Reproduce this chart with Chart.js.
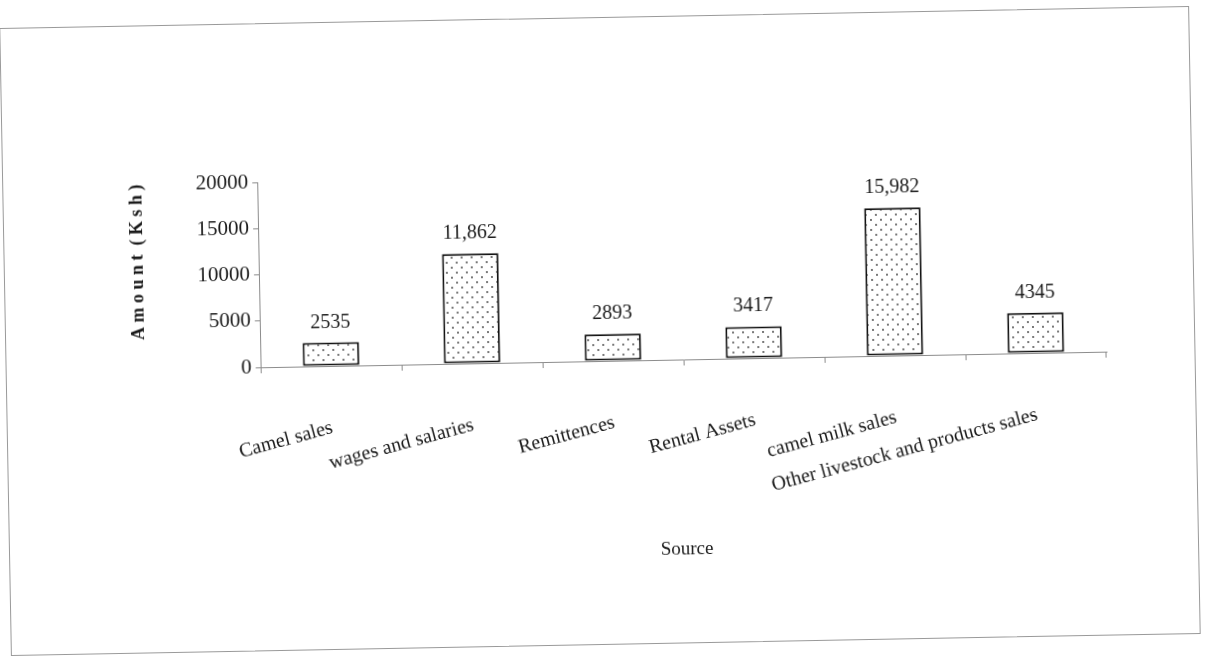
<!DOCTYPE html>
<html>
<head>
<meta charset="utf-8">
<title>Income sources</title>
<script src="https://cdn.jsdelivr.net/npm/chart.js@4.4.1/dist/chart.umd.min.js"></script>
<style>
  html, body { margin: 0; padding: 0; background: #fff; overflow: hidden; }
  #frame {
    position: absolute; left: 5px; top: 17px;
    width: 1190px; height: 628px;
    box-sizing: border-box;
    border: 1px solid #9a9a9a;
    transform: rotate(-1.06deg);
  }
  #wrap { position: absolute; left: 0; top: 0; width: 1188px; height: 626px; }
</style>
</head>
<body>
<div id="frame">
  <div id="wrap"><canvas id="incomeChart"></canvas></div>
</div>
<script>
const sources = ['Camel sales', 'wages and salaries', 'Remittences', 'Rental Assets', 'camel milk sales', 'Other livestock and products sales'];
const amounts = [2535, 11862, 2893, 3417, 15982, 4345];
const amountLabels = ['2535', '11,862', '2893', '3417', '15,982', '4345'];
const yTicks = [0, 5000, 10000, 15000, 20000];

const SERIF = "'Liberation Serif', 'Times New Roman', serif";
const INK = '#1a1a1a';
const AXIS = '#8c8c8c';

// dotted fill for the bars
function dotPattern() {
  const tile = document.createElement('canvas');
  tile.width = 10;
  tile.height = 10;
  const t = tile.getContext('2d');
  t.fillStyle = '#ffffff';
  t.fillRect(0, 0, 10, 10);
  t.fillStyle = '#3a3a3a';
  [[2, 2], [7, 7]].forEach(([x, y]) => {
    t.beginPath();
    t.arc(x, y, 0.9, 0, Math.PI * 2);
    t.fill();
  });
  return t.createPattern(tile, 'repeat');
}

// value text above each bar
const valueLabels = {
  id: 'valueLabels',
  afterDatasetsDraw(chart) {
    const ctx = chart.ctx;
    const meta = chart.getDatasetMeta(0);
    ctx.save();
    ctx.font = '20px ' + SERIF;
    ctx.fillStyle = INK;
    ctx.textAlign = 'center';
    ctx.textBaseline = 'alphabetic';
    meta.data.forEach((bar, i) => {
      ctx.fillText(amountLabels[i], bar.x, bar.y - 15);
    });
    ctx.restore();
  }
};

const ctx = document.getElementById('incomeChart').getContext('2d');
new Chart(ctx, {
  type: 'bar',
  data: {
    labels: sources,
    datasets: [{
      data: amounts,
      backgroundColor: dotPattern(),
      borderColor: '#111111',
      borderWidth: 2,
      borderSkipped: false,
      categoryPercentage: 1,
      barPercentage: 0.4
    }]
  },
  options: {
    responsive: true,
    maintainAspectRatio: false,
    animation: false,
    layout: { padding: { left: 123, right: 88, top: 158, bottom: 82 } },
    plugins: {
      legend: { display: false },
      tooltip: { enabled: false }
    },
    scales: {
      x: {
        // the slanted labels plus the title need more than the default half-height cap
        afterFit(scale) {
          scale.height = 201;
        },
        grid: { display: true, offset: true, drawOnChartArea: false, drawTicks: true, tickLength: 6, color: AXIS, lineWidth: 1 },
        border: { display: true, color: AXIS, width: 1 },
        ticks: {
          autoSkip: false,
          minRotation: 14,
          maxRotation: 14,
          padding: 44,
          color: INK,
          font: { family: SERIF, size: 20 }
        },
        title: {
          display: true,
          text: 'Source',
          color: INK,
          font: { family: SERIF, size: 19 },
          padding: { top: 10, bottom: 0 }
        }
      },
      y: {
        min: 0,
        max: 20000,
        afterBuildTicks(scale) {
          scale.ticks = yTicks.map(v => ({ value: v }));
        },
        grid: { display: true, drawOnChartArea: false, drawTicks: true, tickLength: 5, color: AXIS, lineWidth: 1 },
        border: { display: true, color: AXIS, width: 1 },
        ticks: {
          padding: 4,
          color: INK,
          font: { family: SERIF, size: 21 },
          callback: value => String(value)
        },
        title: {
          display: true,
          align: 'end',
          text: 'A m o u n t  ( K s h )',
          color: INK,
          font: { family: SERIF, size: 18, weight: 'bold' },
          padding: { top: 0, bottom: 44 }
        }
      }
    }
  },
  plugins: [valueLabels]
});
</script>
</body>
</html>
